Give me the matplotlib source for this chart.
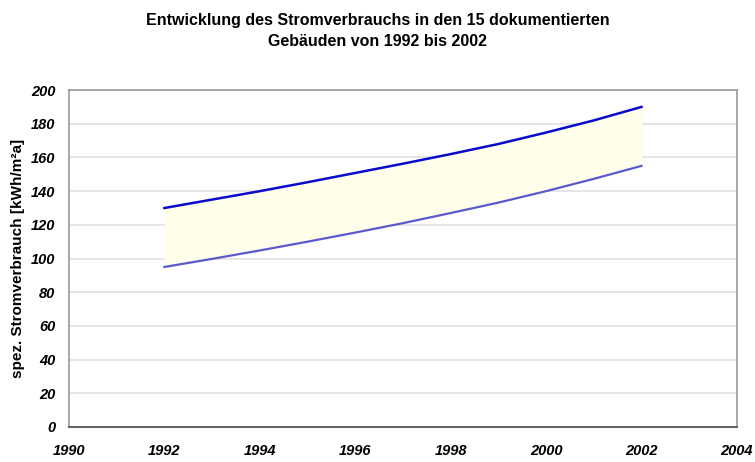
import numpy as np
import matplotlib.pyplot as plt

plt.rcParams['font.family'] = ['Liberation Sans', 'DejaVu Sans']

# yearly consumption band, kWh/m2a
years = [1992, 1993, 1994, 1995, 1996, 1997, 1998, 1999, 2000, 2001, 2002]
upper = [130, 135, 140, 145.3, 150.8, 156.3, 162, 168, 174.8, 182, 190]
lower = [95, 99.8, 104.8, 110, 115.4, 121, 127, 133.2, 140, 147.3, 155]

x_ticks = [1990, 1992, 1994, 1996, 1998, 2000, 2002, 2004]
y_ticks = [0, 20, 40, 60, 80, 100, 120, 140, 160, 180, 200]

fig = plt.figure(figsize=(7.55, 4.62), dpi=100)
ax = fig.add_axes([0.0914, 0.0758, 0.8846, 0.7292])

ax.fill_between(years, lower, upper, color='#fffeea', lw=0)
ax.plot(years, upper, color='#0a0acc', lw=1.8, solid_joinstyle='round')
ax.plot(years, lower, color='#5a5acc', lw=1.6, solid_joinstyle='round')

ax.set_xlim(1990, 2004)
ax.set_ylim(0, 200)
ax.set_xticks(x_ticks)
ax.set_yticks(y_ticks)
ax.tick_params(length=0, labelsize=10.5)
ax.tick_params(axis='x', pad=12)
ax.tick_params(axis='y', pad=10)
for lbl in ax.get_xticklabels() + ax.get_yticklabels():
    lbl.set_fontweight('bold')
    lbl.set_fontstyle('italic')

ax.grid(axis='y', color='#e2e2e2', lw=1.2)
ax.set_axisbelow(True)
for side in ['top', 'right', 'left']:
    ax.spines[side].set_color('#999999')
    ax.spines[side].set_linewidth(1.2)
ax.spines['bottom'].set_color('#666666')
ax.spines['bottom'].set_linewidth(1.5)

ax.set_ylabel('spez. Stromverbrauch [kWh/m²a]', fontsize=11, fontweight='bold', labelpad=4)

fig.text(0.5, 0.972, 'Entwicklung des Stromverbrauchs in den 15 dokumentierten\nGebäuden von 1992 bis 2002',
         ha='center', va='top', fontsize=11.5, fontweight='bold', linespacing=1.5)

plt.savefig('out.png', dpi=100)
